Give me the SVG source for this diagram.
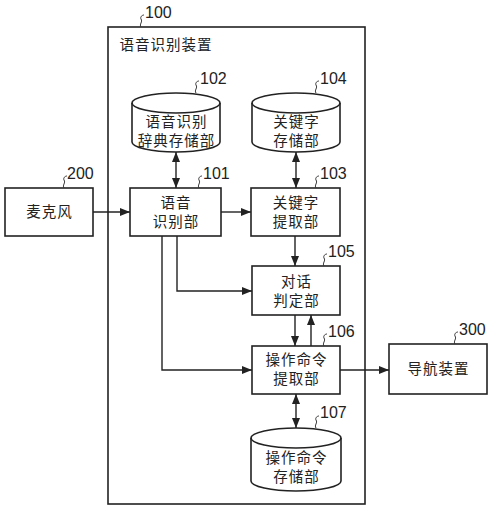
<svg xmlns="http://www.w3.org/2000/svg" width="500" height="509" viewBox="0 0 500 509">
<defs>
<style>
.b{fill:#fff;stroke:#222;stroke-width:1.6}
.f{fill:none;stroke:#222;stroke-width:1.6}
.l{fill:none;stroke:#222;stroke-width:1.4}
.s{fill:none;stroke:#333;stroke-width:1}
.t{font-family:"Noto Sans CJK SC","Noto Sans",sans-serif;font-size:14.5px;letter-spacing:1px;fill:#222;text-anchor:middle}
.n{font-family:"Liberation Sans",Arial,sans-serif;font-size:16px;fill:#222}
</style>
<marker id="a" viewBox="0 0 10 8" refX="10" refY="4" markerWidth="10" markerHeight="8" markerUnits="userSpaceOnUse" orient="auto-start-reverse">
<path d="M0,0 L10,4 L0,8 Z" fill="#222"/>
</marker>
</defs>
<rect width="500" height="509" fill="#fff"/>

<g id="n100">
<rect class="b" x="108" y="27" width="257" height="477"/>
<path class="s" d="M141,27 c-2,-3 2,-5 0,-8 c-1,-2 1,-4 3,-4"/>
<text class="n" x="145" y="18">100</text>
<text class="t" x="166" y="50">语音识别装置</text>
</g>

<g id="n102">
<path class="b" d="M132,103 A44,10 0 0 1 220,103 V142 A44,10 0 0 1 132,142 Z"/>
<path class="f" d="M132,103 A44,10 0 0 0 220,103"/>
<path class="s" d="M196,93 c-2,-3 2,-5 0,-8 c-1,-2 1,-4 3,-4"/>
<text class="n" x="200" y="84">102</text>
<text class="t" x="176.500" y="127">语音识别</text>
<text class="t" x="176.500" y="146">辞典存储部</text>
</g>

<g id="n104">
<path class="b" d="M252,103 A44,10 0 0 1 340,103 V142 A44,10 0 0 1 252,142 Z"/>
<path class="f" d="M252,103 A44,10 0 0 0 340,103"/>
<path class="s" d="M316,93 c-2,-3 2,-5 0,-8 c-1,-2 1,-4 3,-4"/>
<text class="n" x="320" y="84">104</text>
<text class="t" x="296.500" y="127">关键字</text>
<text class="t" x="296.500" y="146">存储部</text>
</g>

<g id="n200">
<rect class="b" x="5" y="188" width="88" height="48"/>
<path class="s" d="M64,188 c-2,-3 2,-5 0,-8 c-1,-2 1,-4 3,-4"/>
<text class="n" x="67" y="179">200</text>
<text class="t" x="49.500" y="217">麦克风</text>
</g>

<g id="n101">
<rect class="b" x="130" y="188" width="91" height="48"/>
<path class="s" d="M199,188 c-2,-3 2,-5 0,-8 c-1,-2 1,-4 3,-4"/>
<text class="n" x="203" y="179">101</text>
<text class="t" x="176" y="208">语音</text>
<text class="t" x="176" y="227">识别部</text>
</g>

<g id="n103">
<rect class="b" x="251" y="188" width="89" height="48"/>
<path class="s" d="M316,188 c-2,-3 2,-5 0,-8 c-1,-2 1,-4 3,-4"/>
<text class="n" x="320" y="179">103</text>
<text class="t" x="296" y="208">关键字</text>
<text class="t" x="296" y="227">提取部</text>
</g>

<g id="n105">
<rect class="b" x="252" y="266" width="88" height="49"/>
<path class="s" d="M324,266 c-2,-3 2,-5 0,-8 c-1,-2 1,-4 3,-4"/>
<text class="n" x="328" y="257">105</text>
<text class="t" x="296.500" y="287">对话</text>
<text class="t" x="296.500" y="306">判定部</text>
</g>

<g id="n106">
<rect class="b" x="252" y="346" width="88" height="48"/>
<path class="s" d="M324,346 c-2,-3 2,-5 0,-8 c-1,-2 1,-4 3,-4"/>
<text class="n" x="328" y="337">106</text>
<text class="t" x="296.500" y="365">操作命令</text>
<text class="t" x="296.500" y="384">提取部</text>
</g>

<g id="n107">
<path class="b" d="M251,438 A45,10 0 0 1 341,438 V481 A45,10 0 0 1 251,481 Z"/>
<path class="f" d="M251,438 A45,10 0 0 0 341,438"/>
<path class="s" d="M316,428 c-2,-3 2,-5 0,-8 c-1,-2 1,-4 3,-4"/>
<text class="n" x="320" y="418">107</text>
<text class="t" x="296.500" y="463">操作命令</text>
<text class="t" x="296.500" y="482">存储部</text>
</g>

<g id="n300">
<rect class="b" x="389" y="344" width="98" height="50"/>
<path class="s" d="M455,344 c-2,-3 2,-5 0,-8 c-1,-2 1,-4 3,-4"/>
<text class="n" x="459" y="335">300</text>
<text class="t" x="438.500" y="374">导航装置</text>
</g>

<g id="connectors">
<line class="l" x1="93" y1="212" x2="130" y2="212" marker-end="url(#a)"/>
<line class="l" x1="221" y1="212" x2="251" y2="212" marker-end="url(#a)"/>
<line class="l" x1="176" y1="152" x2="176" y2="188" marker-start="url(#a)" marker-end="url(#a)"/>
<line class="l" x1="296" y1="152" x2="296" y2="188" marker-start="url(#a)" marker-end="url(#a)"/>
<line class="l" x1="295" y1="236" x2="295" y2="266" marker-end="url(#a)"/>
<polyline class="l" points="177,236 177,291 252,291" marker-end="url(#a)"/>
<polyline class="l" points="162,236 162,370 252,370" marker-end="url(#a)"/>
<line class="l" x1="295" y1="315" x2="295" y2="346" marker-end="url(#a)"/>
<line class="l" x1="311" y1="346" x2="311" y2="315" marker-end="url(#a)"/>
<line class="l" x1="340" y1="370" x2="389" y2="370" marker-end="url(#a)"/>
<line class="l" x1="296" y1="394" x2="296" y2="428" marker-start="url(#a)" marker-end="url(#a)"/>
</g>
</svg>
